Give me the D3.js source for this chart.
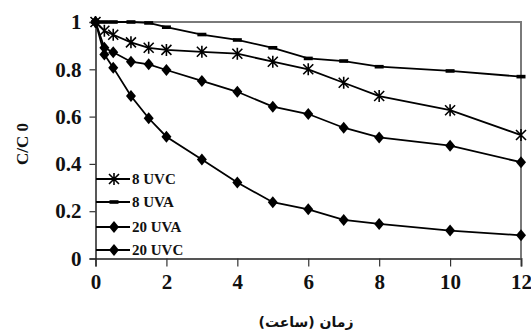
<!DOCTYPE html>
<html>
<head>
<meta charset="utf-8">
<script src="https://cdn.jsdelivr.net/npm/d3@7/dist/d3.min.js"></script>
<style>
  body { margin: 0; background: #fff; }
  svg { display: block; }
</style>
</head>
<body>
<svg id="chart" width="531" height="331"></svg>
<script>
'use strict';

var serif = 'Liberation Serif, Times New Roman, serif';

// time (hours)
var times = [0, 0.25, 0.5, 1, 1.5, 2, 3, 4, 5, 6, 7, 8, 10, 12];

var uvc8  = [1, 0.963, 0.946, 0.914, 0.891, 0.882, 0.874, 0.866, 0.832, 0.800, 0.743, 0.687, 0.627, 0.522];
var uva8  = [1, 1, 1, 1, 0.996, 0.978, 0.947, 0.924, 0.891, 0.846, 0.835, 0.811, 0.793, 0.769];
var uva20 = [1, 0.891, 0.872, 0.832, 0.821, 0.797, 0.751, 0.705, 0.642, 0.611, 0.553, 0.512, 0.477, 0.407];
var uvc20 = [1, 0.863, 0.807, 0.687, 0.593, 0.515, 0.419, 0.321, 0.238, 0.208, 0.163, 0.146, 0.118, 0.098];

var xTicks = [0, 2, 4, 6, 8, 10, 12];
var yTicks = [0, 0.2, 0.4, 0.6, 0.8, 1];

var series = [
    { name: '8 UVC', values: uvc8, marker: 'star' },
    { name: '8 UVA', values: uva8, marker: 'dash' },
    { name: '20 UVA', values: uva20, marker: 'diamond' },
    { name: '20 UVC', values: uvc20, marker: 'diamond' }
];

var svg = d3.select('#chart');

var x = d3.scaleLinear().domain([0, 12]).range([95.5, 521]);
var y = d3.scaleLinear().domain([0, 1]).range([258.5, 22]);

// plot frame (top and right in gray)
svg.append('path')
    .attr('d', 'M' + x(0) + ',' + y(1) + 'H' + x(12) + 'V' + y(0))
    .attr('fill', 'none')
    .attr('stroke', '#7a7a7a')
    .attr('stroke-width', 2);

// x axis
var xAxis = svg.append('g')
    .attr('transform', 'translate(0,' + y(0) + ')')
    .call(d3.axisBottom(x).tickValues(xTicks).tickSize(8).tickPadding(8).tickFormat(d3.format('d')));
xAxis.attr('font-family', serif).attr('font-size', 21).attr('font-weight', 'bold');
xAxis.select('.domain').attr('stroke', '#555').attr('stroke-width', 2);
xAxis.selectAll('.tick line').attr('stroke', '#333').attr('stroke-width', 1.2);
xAxis.selectAll('text').attr('fill', '#111');

// y axis
var yAxis = svg.append('g')
    .attr('transform', 'translate(' + x(0) + ',0)')
    .call(d3.axisLeft(y).tickValues(yTicks).tickSize(6).tickPadding(8)
        .tickFormat(function (d) { return d === 0 || d === 1 ? d : d3.format('.1f')(d); }));
yAxis.attr('font-family', serif).attr('font-size', 21).attr('font-weight', 'bold');
yAxis.select('.domain').attr('stroke', '#222').attr('stroke-width', 1.5);
yAxis.selectAll('.tick line').attr('stroke', '#333').attr('stroke-width', 1.2);
yAxis.selectAll('text').attr('fill', '#111');

// axis titles
svg.append('text')
    .attr('transform', 'translate(28,144) rotate(-90)')
    .attr('text-anchor', 'middle')
    .attr('font-family', serif)
    .attr('font-weight', 'bold')
    .attr('font-size', 17)
    .attr('fill', '#111')
    .text('C/C 0');

svg.append('text')
    .attr('x', 306)
    .attr('y', 327)
    .attr('text-anchor', 'middle')
    .attr('font-family', 'DejaVu Sans, sans-serif')
    .attr('font-weight', 'bold')
    .attr('font-size', 14)
    .attr('fill', '#111')
    .text('زمان (ساعت)');

// markers
function drawMarker(g, type, cx, cy) {
    if (type === 'diamond') {
        g.append('path')
            .attr('d', 'M' + cx + ',' + (cy - 6) + 'L' + (cx + 5) + ',' + cy +
                'L' + cx + ',' + (cy + 6) + 'L' + (cx - 5) + ',' + cy + 'Z')
            .attr('fill', '#000');
    } else if (type === 'dash') {
        g.append('rect')
            .attr('x', cx - 4.5).attr('y', cy - 1.8)
            .attr('width', 9).attr('height', 3.6)
            .attr('fill', '#000');
    } else {
        var r = 5;
        g.append('path')
            .attr('d', 'M' + (cx - r) + ',' + (cy - r) + 'L' + (cx + r) + ',' + (cy + r) +
                'M' + (cx - r) + ',' + (cy + r) + 'L' + (cx + r) + ',' + (cy - r) +
                'M' + cx + ',' + (cy - r - 1) + 'L' + cx + ',' + (cy + r + 1))
            .attr('stroke', '#000')
            .attr('stroke-width', 1.6)
            .attr('fill', 'none');
    }
}

var line = d3.line()
    .x(function (d) { return x(d[0]); })
    .y(function (d) { return y(d[1]); });

series.forEach(function (s) {
    var pts = times.map(function (t, i) { return [t, s.values[i]]; });
    var g = svg.append('g');
    g.append('path')
        .attr('d', line(pts))
        .attr('fill', 'none')
        .attr('stroke', '#000')
        .attr('stroke-width', 1.8);
    pts.forEach(function (p) {
        drawMarker(g, s.marker, x(p[0]), y(p[1]));
    });
});

// legend
var legendY = [179, 202, 227, 250];
series.forEach(function (s, i) {
    var g = svg.append('g');
    g.append('line')
        .attr('x1', 96).attr('x2', 130)
        .attr('y1', legendY[i]).attr('y2', legendY[i])
        .attr('stroke', '#000')
        .attr('stroke-width', 1.8);
    drawMarker(g, s.marker, 114, legendY[i]);
    g.append('text')
        .attr('x', 132)
        .attr('y', legendY[i] + 5)
        .attr('font-family', serif)
        .attr('font-weight', 'bold')
        .attr('font-size', 15)
        .attr('fill', '#111')
        .text(s.name);
});
</script>
</body>
</html>
